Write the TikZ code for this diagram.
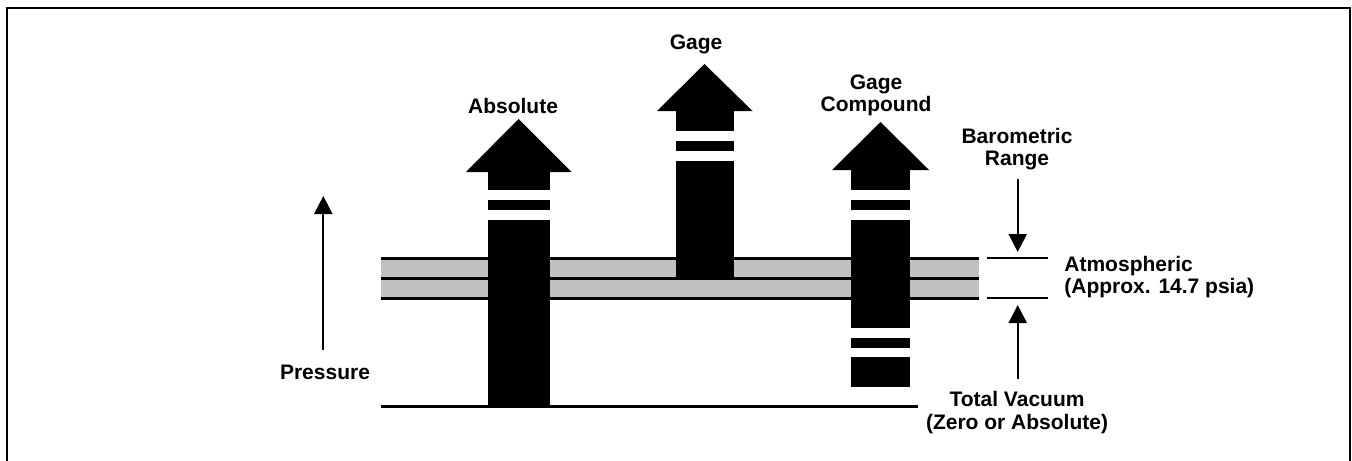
\documentclass[tikz,border=0pt]{standalone}
\usepackage{fontspec}
\setmainfont{Liberation Sans}
\usetikzlibrary{arrows.meta}
\definecolor{bandgray}{RGB}{192,192,192}
\begin{document}
\begin{tikzpicture}[x=0.5pt,y=-0.5pt,
  lbl/.style={font=\fontsize{10.5}{11.2}\selectfont\bfseries, inner sep=0pt, align=center},
  thickline/.style={line width=1.5pt},
  thinline/.style={line width=1pt},
  ptr/.style={line width=1pt, -{Triangle[length=9pt,width=9pt]}},
  blk/.style={fill=black}]
\useasboundingbox (0,0) rectangle (1352,460);
% frame
\draw[line width=1.1pt] (7,462) -- (7,7.7) -- (1350,7.7) -- (1350,462);

% band
\fill[bandgray] (381,258.3) rectangle (979,298.3);
\draw[thickline] (381,258.3) -- (979,258.3);
\draw[thickline] (381,278.3) -- (979,278.3);
\draw[thickline] (381,298.3) -- (979,298.3);
% bottom line (total vacuum)
\draw[thickline] (381,406.5) -- (918,406.5);

% Absolute arrow
\fill[blk] (466,172) -- (518.5,119) -- (571.5,172) -- cycle;
\fill[blk] (488,171.5) rectangle (550,190);
\fill[blk] (488,200) rectangle (550,210);
\fill[blk] (488,220) rectangle (550,406);

% Gage arrow
\fill[blk] (657,111) -- (704.5,64) -- (752.5,111) -- cycle;
\fill[blk] (676,110.5) rectangle (734,131);
\fill[blk] (676,141) rectangle (734,151);
\fill[blk] (676,161) rectangle (734,278.3);

% Gage Compound arrow
\fill[blk] (832,170) -- (880.5,122) -- (929,170) -- cycle;
\fill[blk] (851,169.5) rectangle (910,190);
\fill[blk] (851,200) rectangle (910,210);
\fill[blk] (851,220) rectangle (910,327.7);
\fill[blk] (851,337.7) rectangle (910,347.7);
\fill[blk] (851,356.7) rectangle (910,386.7);

% barometric range marks
\coordinate (atl) at (987,258.3);
\coordinate (atr) at (1048,258.3);
\coordinate (abl) at (987,298.3);
\coordinate (abr) at (1048,298.3);
\draw[thinline] (atl) -- (atr);
\draw[thinline] (abl) -- (abr);

% labels
\node[lbl] (abs) at (513,106) {Absolute};
\node[lbl] (gage) at (696,44.5) {Gage};
\node[lbl] (comp) at (876,95.5) {Gage\\Compound};
\node[lbl] (baro) at (1017,149) {Barometric\\Range};
\node[lbl, anchor=west, align=left] (atm) at (1064,277) {Atmospheric\\(Approx. 14.7 psia)};
\node[lbl] (vac) at (1017,412.5) {Total Vacuum\\(Zero or Absolute)};
\node[lbl] (pres) at (325,372) {Pressure};

% pointer arrows
\coordinate (ptop) at (323.3,196);
\coordinate (pbot) at (323.3,349.5);
\draw[ptr] (pbot) -- (ptop);
\coordinate (btop) at (1017.7,179);
\coordinate (btip) at (1017.7,252);
\draw[ptr] (btop) -- (btip);
\coordinate (vbot) at (1017.7,378.5);
\coordinate (vtip) at (1017.7,305);
\draw[ptr] (vbot) -- (vtip);
\end{tikzpicture}
\end{document}
